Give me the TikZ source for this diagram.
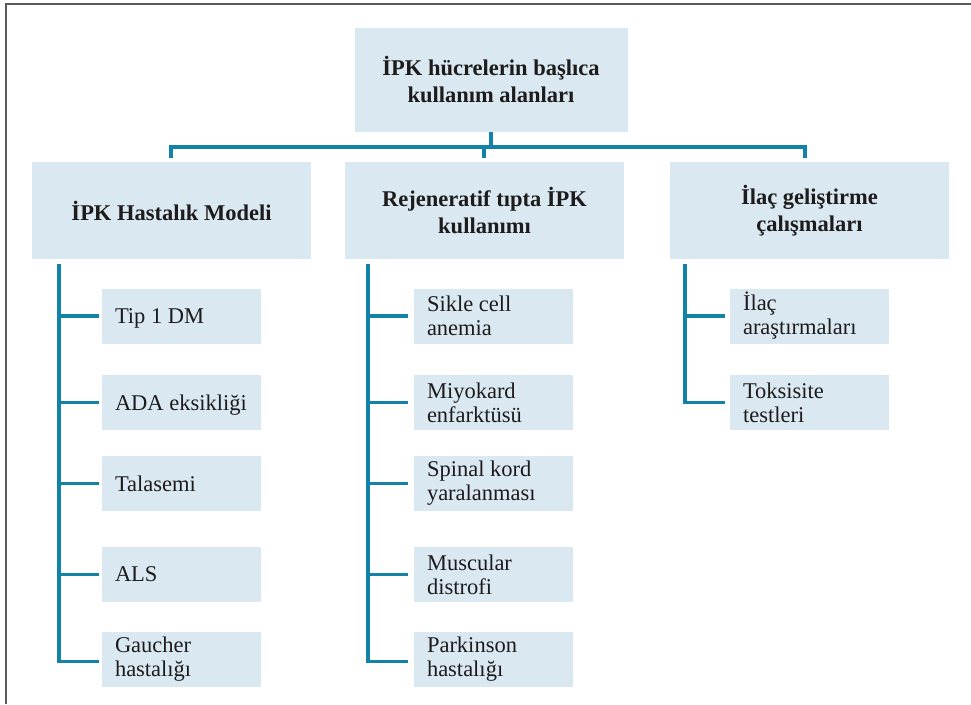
\documentclass[tikz,border=0pt]{standalone}
\usepackage{fontspec}
\setmainfont{Liberation Serif}
\usetikzlibrary{calc}
\hyphenpenalty=10000
\exhyphenpenalty=10000
\definecolor{boxblue}{HTML}{D9E8F1}
\definecolor{connblue}{HTML}{1282A8}
\definecolor{framegray}{HTML}{5A5A5A}
\definecolor{txt}{HTML}{1E1B1C}
\begin{document}
\begin{tikzpicture}[x=1pt,y=-1pt,
  hdr/.style={fill=boxblue, draw=none, text=txt, align=center, inner sep=0pt,
    minimum width=279pt, minimum height=97pt,
    font=\fontsize{22.5}{27}\selectfont\bfseries},
  topbox/.style={hdr, minimum width=273pt, minimum height=104pt},
  item/.style={fill=boxblue, draw=none, text=txt, align=flush left, inner xsep=13pt, inner ysep=0pt,
    text width=133pt, minimum height=55pt,
    font=\fontsize{22.5}{24}\selectfont},
  itemone/.style={item, text depth=0pt},
  conn/.style={draw=connblue, line width=3.5pt},
  frameline/.style={draw=framegray, line width=1.8pt}]
\useasboundingbox (0,0) rectangle (971,704);
% frame
\coordinate (fbl) at (5.8,704);
\coordinate (ftl) at (5.8,3.8);
\coordinate (ftr) at (971,3.8);
\draw[frameline] (fbl) -- (ftl) -- (ftr);
% nodes
\node[topbox] (top) at (491,79.5) {İPK hücrelerin başlıca\\kullanım alanları};
\node[hdr] (l2a) at (171.5,210.5) {İPK Hastalık Modeli};
\node[hdr] (l2b) at (484.5,210.5) {Rejeneratif tıpta İPK\\kullanımı};
\node[hdr] (l2c) at (809.5,210.5) {İlaç geliştirme\\çalışmaları};
\node[itemone] (a1) at (181.5,316) {Tip 1 DM};
\node[itemone] (a2) at (181.5,402.5) {ADA eksikliği};
\node[itemone] (a3) at (181.5,483.5) {Talasemi};
\node[itemone] (a4) at (181.5,574.5) {ALS};
\node[item] (a5) at (181.5,659.5) {Gaucher\\hastalığı};
\node[item] (b1) at (493.5,316) {Sikle cell\\anemia};
\node[item] (b2) at (493.5,402.5) {Miyokard\\enfarktüsü};
\node[item] (b3) at (493.5,483.5) {Spinal kord\\yaralanması};
\node[item] (b4) at (493.5,574.5) {Muscular\\distrofi};
\node[item] (b5) at (493.5,659.5) {Parkinson\\hastalığı};
\node[item] (c1) at (809.5,316) {İlaç\\araştırmaları};
\node[item] (c2) at (809.5,402.5) {Toksisite\\testleri};
% top bus
\coordinate (bus) at (491,147);
\coordinate (da) at ($(l2a.north)+(-0.5,-4)$);
\coordinate (db) at ($(l2b.north)+(-0.5,-4)$);
\coordinate (dc) at ($(l2c.north)+(-4.5,-4)$);
\draw[conn] (top.south) -- (bus);
\draw[conn] (da) |- (bus) -| (dc);
\draw[conn] (db) -- (db |- bus);
% column a
\coordinate (sa) at ($(l2a.south west)+(27,5)$);
\draw[conn] (sa) |- ($(a5.west)+(-3,2)$);
\foreach \n in {a1,a2,a3,a4}{
  \draw[conn] (sa |- \n.west) -- ($(\n.west)+(-3,0)$);
}
% column b
\coordinate (sb) at ($(l2b.south west)+(23,5)$);
\draw[conn] (sb) |- ($(b5.west)+(-6,2)$);
\foreach \n in {b1,b2,b3,b4}{
  \draw[conn] (sb |- \n.west) -- ($(\n.west)+(-6,0)$);
}
% column c
\coordinate (sc) at ($(l2c.south west)+(15,5)$);
\draw[conn] (sc) |- ($(c2.west)+(-5,0)$);
\draw[conn] (sc |- c1.west) -- ($(c1.west)+(-5,0)$);
\end{tikzpicture}
\end{document}
